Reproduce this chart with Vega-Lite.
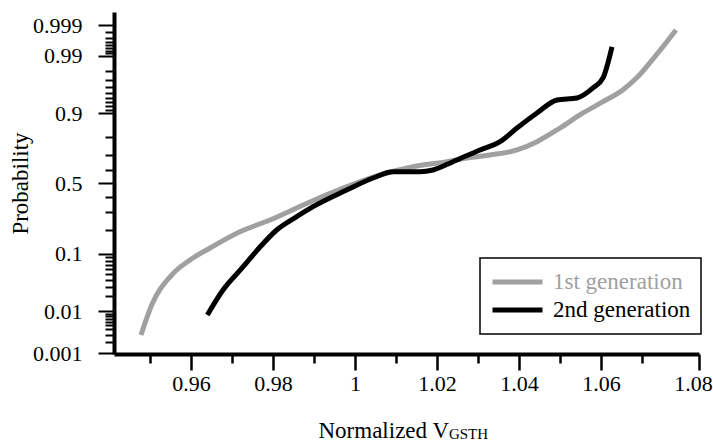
{
  "$schema": "https://vega.github.io/schema/vega-lite/v6.json",
  "width": 585,
  "height": 342,
  "autosize": {"type": "none"},
  "padding": {"left": 114, "top": 12, "right": 14, "bottom": 89},
  "background": "white",
  "config": {
    "view": {"stroke": null},
    "font": "Liberation Serif",
    "axis": {"labelFont": "Liberation Serif", "titleFont": "Liberation Serif"},
    "legend": {"labelFont": "Liberation Serif"},
    "text": {"font": "Liberation Serif"}
  },
  "layer": [
    {
      "data": {
        "values": [
          {"series": "1st generation", "v": 0.94780, "p": 0.00294},
          {"series": "1st generation", "v": 0.95041, "p": 0.0136},
          {"series": "1st generation", "v": 0.95529, "p": 0.0481},
          {"series": "1st generation", "v": 0.95976, "p": 0.0821},
          {"series": "1st generation", "v": 0.96463, "p": 0.1205},
          {"series": "1st generation", "v": 0.97195, "p": 0.1904},
          {"series": "1st generation", "v": 0.97927, "p": 0.2535},
          {"series": "1st generation", "v": 0.98902, "p": 0.3683},
          {"series": "1st generation", "v": 0.99805, "p": 0.4768},
          {"series": "1st generation", "v": 1.00610, "p": 0.5614},
          {"series": "1st generation", "v": 1.01415, "p": 0.6200},
          {"series": "1st generation", "v": 1.02244, "p": 0.6541},
          {"series": "1st generation", "v": 1.02732, "p": 0.6785},
          {"series": "1st generation", "v": 1.03293, "p": 0.6978},
          {"series": "1st generation", "v": 1.03951, "p": 0.7288},
          {"series": "1st generation", "v": 1.04439, "p": 0.7764},
          {"series": "1st generation", "v": 1.05000, "p": 0.8435},
          {"series": "1st generation", "v": 1.05561, "p": 0.9001},
          {"series": "1st generation", "v": 1.06049, "p": 0.9315},
          {"series": "1st generation", "v": 1.06537, "p": 0.9560},
          {"series": "1st generation", "v": 1.06878, "p": 0.9730},
          {"series": "1st generation", "v": 1.07195, "p": 0.9860},
          {"series": "1st generation", "v": 1.07829, "p": 0.99737},
          {"series": "2nd generation", "v": 0.96398, "p": 0.0084},
          {"series": "2nd generation", "v": 0.96780, "p": 0.0264},
          {"series": "2nd generation", "v": 0.97268, "p": 0.0645},
          {"series": "2nd generation", "v": 0.97683, "p": 0.1241},
          {"series": "2nd generation", "v": 0.98090, "p": 0.1989},
          {"series": "2nd generation", "v": 0.98578, "p": 0.2730},
          {"series": "2nd generation", "v": 0.98976, "p": 0.3366},
          {"series": "2nd generation", "v": 0.99798, "p": 0.4530},
          {"series": "2nd generation", "v": 1.00439, "p": 0.5398},
          {"series": "2nd generation", "v": 1.00927, "p": 0.5849},
          {"series": "2nd generation", "v": 1.01585, "p": 0.5849},
          {"series": "2nd generation", "v": 1.01902, "p": 0.5970},
          {"series": "2nd generation", "v": 1.02390, "p": 0.6541},
          {"series": "2nd generation", "v": 1.03049, "p": 0.7288},
          {"series": "2nd generation", "v": 1.03537, "p": 0.7764},
          {"series": "2nd generation", "v": 1.03951, "p": 0.8435},
          {"series": "2nd generation", "v": 1.04439, "p": 0.9001},
          {"series": "2nd generation", "v": 1.04927, "p": 0.9355},
          {"series": "2nd generation", "v": 1.05415, "p": 0.9400},
          {"series": "2nd generation", "v": 1.05805, "p": 0.9588},
          {"series": "2nd generation", "v": 1.06049, "p": 0.9725},
          {"series": "2nd generation", "v": 1.06268, "p": 0.9935}
        ]
      },
      "transform": [{"calculate": "quantileNormal(datum.p)", "as": "z"}],
      "mark": {"type": "line", "interpolate": "monotone", "strokeWidth": 5, "strokeCap": "butt"},
      "encoding": {
        "x": {
          "field": "v",
          "type": "quantitative",
          "scale": {"domain": [0.94122, 1.0839], "nice": false, "zero": false},
          "axis": {
            "title": "Normalized V",
            "titleFontSize": 23,
            "titleFontWeight": "normal",
            "titleColor": "black",
            "titleAlign": "left",
            "titleAnchor": "start",
            "titleX": 204,
            "titleY": 83,
            "titleBaseline": "alphabetic",
            "tickCount": 200,
            "values": [0.95, 0.96, 0.97, 0.98, 0.99, 1, 1.01, 1.02, 1.03, 1.04, 1.05, 1.06, 1.07, 1.0839],
            "labelExpr": "datum.value === 0.96 ? '0.96' : datum.value === 0.98 ? '0.98' : datum.value === 1 ? '1' : datum.value === 1.02 ? '1.02' : datum.value === 1.04 ? '1.04' : datum.value === 1.06 ? '1.06' : datum.value === 1.0839 ? '1.08' : ''",
            "labelFontSize": 22,
            "labelColor": "black",
            "labelPadding": 3,
            "labelOffset": {"condition": {"test": "datum.value === 1.0839", "value": -6}, "value": 0},
            "labelFlush": false,
            "labelOverlap": false,
            "grid": false,
            "domainColor": "black",
            "domainWidth": 4,
            "tickColor": "black",
            "tickWidth": 2.5,
            "tickSize": {"condition": {"test": "indexof([0.96, 0.98, 1, 1.02, 1.04, 1.06, 1.0839], datum.value) < 0", "value": 9}, "value": 16}
          }
        },
        "y": {
          "field": "z",
          "type": "quantitative",
          "scale": {"domain": [-3.1, 3.118], "nice": false, "zero": false},
          "axis": {
            "title": "Probability",
            "titleFontSize": 23,
            "titleFontWeight": "normal",
            "titleColor": "black",
            "titlePadding": 0,
            "tickCount": 200,
            "values": [-3.0902, -2.8782, -2.7478, -2.6521, -2.5758, -2.5121, -2.4573, -2.4089, -2.3656, -2.3263, -2.0537, -1.8808, -1.7507, -1.6449, -1.5548, -1.4758, -1.4051, -1.3408, -1.2816, -0.8416, -0.5244, -0.2533, 0, 0.2533, 0.5244, 0.8416, 1.2816, 1.3408, 1.4051, 1.4758, 1.5548, 1.6449, 1.7507, 1.8808, 2.0537, 2.3263, 2.3656, 2.4089, 2.4573, 2.5121, 2.5758, 2.6521, 2.7478, 2.8782],
            "labelExpr": "datum.value === 2.8782 ? '0.999' : datum.value === 2.3263 ? '0.99' : datum.value === 1.2816 ? '0.9' : datum.value === 0 ? '0.5' : datum.value === -1.2816 ? '0.1' : datum.value === -2.3263 ? '0.01' : datum.value === -3.0902 ? '0.001' : ''",
            "labelFontSize": 22,
            "labelColor": "black",
            "labelPadding": 16,
            "labelFlush": false,
            "labelOverlap": false,
            "grid": false,
            "domainColor": "black",
            "domainWidth": 4,
            "tickColor": "black",
            "tickWidth": 2,
            "tickSize": {"condition": {"test": "indexof([2.8782, 2.3263, 1.2816, 0, -1.2816, -2.3263, -3.0902], datum.value) < 0", "value": 9}, "value": 16}
          }
        },
        "color": {
          "field": "series",
          "type": "nominal",
          "scale": {"domain": ["1st generation", "2nd generation"], "range": ["#a0a0a0", "#000000"]},
          "legend": {
            "title": null,
            "orient": "none",
            "legendX": 366,
            "legendY": 246,
            "padding": 10,
            "strokeColor": "black",
            "fillColor": "white",
            "symbolType": "stroke",
            "symbolSize": 2500,
            "symbolStrokeWidth": 5,
            "labelFont": "Liberation Serif",
            "labelFontSize": 23,
            "labelOffset": 8,
            "rowPadding": 0,
            "clipHeight": 28,
            "labelLimit": 300,
            "encode": {
              "legend": {"update": {"strokeWidth": {"value": 1.5}}},
              "labels": {"update": {"fill": {"signal": "datum.label === '1st generation' ? '#a0a0a0' : '#000000'"}}}
            }
          }
        }
      }
    },
    {
      "data": {"values": [{"sub": "GSTH"}]},
      "mark": {"type": "text", "align": "left", "baseline": "alphabetic", "fontSize": 15, "color": "black", "font": "Liberation Serif"},
      "encoding": {
        "text": {"field": "sub", "type": "nominal"},
        "x": {"datum": 1.0229, "type": "quantitative"},
        "y": {"datum": -4.65, "type": "quantitative"}
      }
    }
  ]
}
